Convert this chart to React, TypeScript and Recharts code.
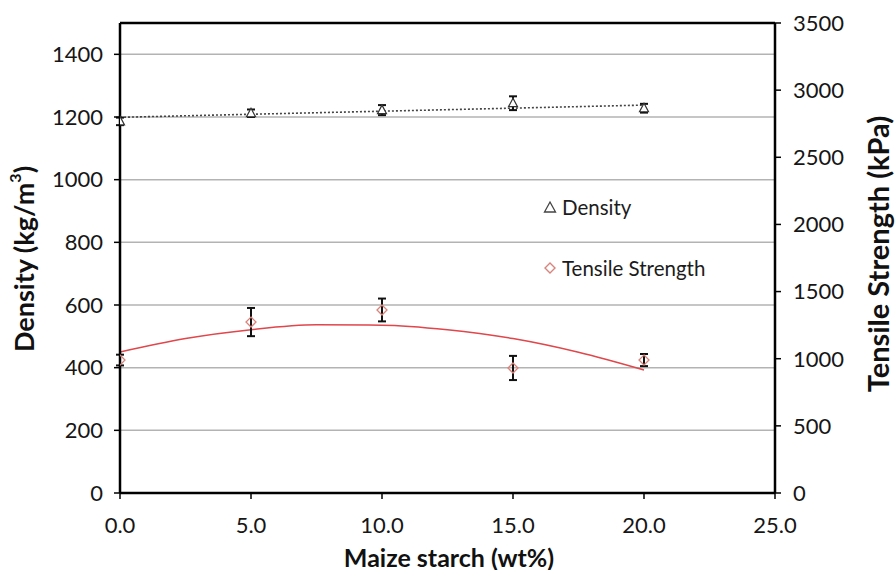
import React from 'react';
import {
  ComposedChart, XAxis, YAxis, CartesianGrid, Line, Scatter, ErrorBar, ReferenceLine,
} from 'recharts';

// starch loading (wt%)
const starch = [0, 5, 10, 15, 20];
const density = [1186, 1212, 1222, 1244, 1228];
const densityErr = [12, 12, 16, 22, 14];
const tensile = [990, 1273, 1363, 931, 990];
const tensileErr = [40, 105, 85, 90, 45];

// fitted trend lines
const densityFitX = [0, 20];
const densityFit = [1199, 1238];
const tensileFitX = [0, 2.5, 5, 7.5, 10, 12.5, 15, 17.5, 20];
const tensileFit = [1050, 1150, 1216, 1252, 1250, 1216, 1150, 1048, 916];

const xTicks = [0, 5, 10, 15, 20, 25];
const leftTicks = [0, 200, 400, 600, 800, 1000, 1200, 1400];
const rightTicks = [0, 500, 1000, 1500, 2000, 2500, 3000, 3500];

const densityPts = starch.map((x, i) => ({ x, y: density[i], err: densityErr[i] }));
const tensilePts = starch.map((x, i) => ({ x, y: tensile[i], err: tensileErr[i] }));
const densityLine = densityFitX.map((x, i) => ({ x, y: densityFit[i] }));
const tensileLine = tensileFitX.map((x, i) => ({ x, y: tensileFit[i] }));

const FONT = 'Lato, "Open Sans", sans-serif';
const tickStyle = { fill: '#161616', fontSize: 22, fontFamily: FONT };

const Triangle = (p: any) => {
  const { cx, cy } = p;
  if (cx == null || cy == null) return null;
  return <polygon points={`${cx},${cy - 5} ${cx - 4.5},${cy + 3.5} ${cx + 4.5},${cy + 3.5}`} fill="#fff" stroke="#333" strokeWidth={1.2} />;
};

const Diamond = (p: any) => {
  const { cx, cy } = p;
  if (cx == null || cy == null) return null;
  return <polygon points={`${cx},${cy - 5} ${cx + 5},${cy} ${cx},${cy + 5} ${cx - 5},${cy}`} fill="none" stroke="#d9837a" strokeWidth={1.3} />;
};

const LegendBox = () => (
  <div style={{ position: 'absolute', left: 543, top: 194, fontFamily: FONT, fontSize: 20.5, color: '#1c1c1c' }}>
    <div style={{ display: 'flex', alignItems: 'center', height: 26 }}>
      <svg width={14} height={14} style={{ marginRight: 5 }}>
        <polygon points="7,2 12.5,12 1.5,12" fill="#fff" stroke="#444" strokeWidth={1.3} />
      </svg>
      Density
    </div>
    <div style={{ display: 'flex', alignItems: 'center', height: 26, marginTop: 35 }}>
      <svg width={14} height={14} style={{ marginRight: 5 }}>
        <polygon points="7,2 12,7 7,12 2,7" fill="#fff" stroke="#d9837a" strokeWidth={1.4} />
      </svg>
      Tensile Strength
    </div>
  </div>
);

const titleStyle: React.CSSProperties = {
  position: 'absolute', fontFamily: FONT, fontWeight: 700, fontSize: 29, color: '#111',
  whiteSpace: 'nowrap', transform: 'translate(-50%, -50%)', lineHeight: 1,
};

export default function App() {
  return (
    <div style={{ position: 'absolute', left: 0, top: 0, width: 896, height: 570, background: '#fff' }}>
      <ComposedChart width={896} height={570} margin={{ top: 23, right: 41, bottom: 17, left: 50 }}>
        <CartesianGrid yAxisId="left" vertical={false} stroke="#b3b3b3" strokeWidth={1.5} />
        <XAxis
          type="number" dataKey="x" domain={[0, 25]} ticks={xTicks} allowDataOverflow
          tickFormatter={(v: number) => v.toFixed(1)} height={60}
          tick={tickStyle} tickSize={6} tickMargin={18}
          axisLine={{ stroke: '#000', strokeWidth: 2.5 }} tickLine={{ stroke: '#000', strokeWidth: 1.5 }}
        />
        <YAxis
          yAxisId="left" type="number" domain={[0, 1500]} ticks={leftTicks} width={70}
          tick={tickStyle} tickSize={6} tickMargin={11}
          axisLine={{ stroke: '#000', strokeWidth: 2.5 }} tickLine={{ stroke: '#000', strokeWidth: 1.5 }}
        />
        <YAxis
          yAxisId="right" orientation="right" type="number" domain={[0, 3500]} ticks={rightTicks} width={80}
          tick={tickStyle} tickSize={6} tickMargin={12}
          axisLine={{ stroke: '#000', strokeWidth: 2.5 }} tickLine={{ stroke: '#000', strokeWidth: 1.5 }}
        />
        <ReferenceLine yAxisId="left" y={1500} stroke="#000" strokeWidth={2.5} />
        <Line
          yAxisId="left" data={densityLine} dataKey="y" type="linear" stroke="#444"
          strokeWidth={1.6} strokeDasharray="2 2" dot={false} isAnimationActive={false}
        />
        <Line
          yAxisId="right" data={tensileLine} dataKey="y" type="monotone" stroke="#e0464a"
          strokeWidth={1.5} dot={false} isAnimationActive={false}
        />
        <Scatter yAxisId="left" data={densityPts} dataKey="y" shape={Triangle} isAnimationActive={false}>
          <ErrorBar dataKey="err" direction="y" width={4} stroke="#111" strokeWidth={2} />
        </Scatter>
        <Scatter yAxisId="right" data={tensilePts} dataKey="y" shape={Diamond} isAnimationActive={false}>
          <ErrorBar dataKey="err" direction="y" width={4} stroke="#111" strokeWidth={2} />
        </Scatter>
      </ComposedChart>
      <LegendBox />
      <div style={{ ...titleStyle, left: 23, top: 259, fontSize: 27, transform: 'translate(-50%, -50%) rotate(-90deg)' }}>
        Density (kg/m<sup style={{ fontSize: 16, verticalAlign: 'top', position: 'relative', top: -3 }}>3</sup>)
      </div>
      <div style={{ ...titleStyle, left: 877, top: 254, transform: 'translate(-50%, -50%) rotate(-90deg)' }}>
        Tensile Strength (kPa)
      </div>
      <div style={{ ...titleStyle, left: 449, top: 557, fontSize: 25 }}>Maize starch (wt%)</div>
    </div>
  );
}
